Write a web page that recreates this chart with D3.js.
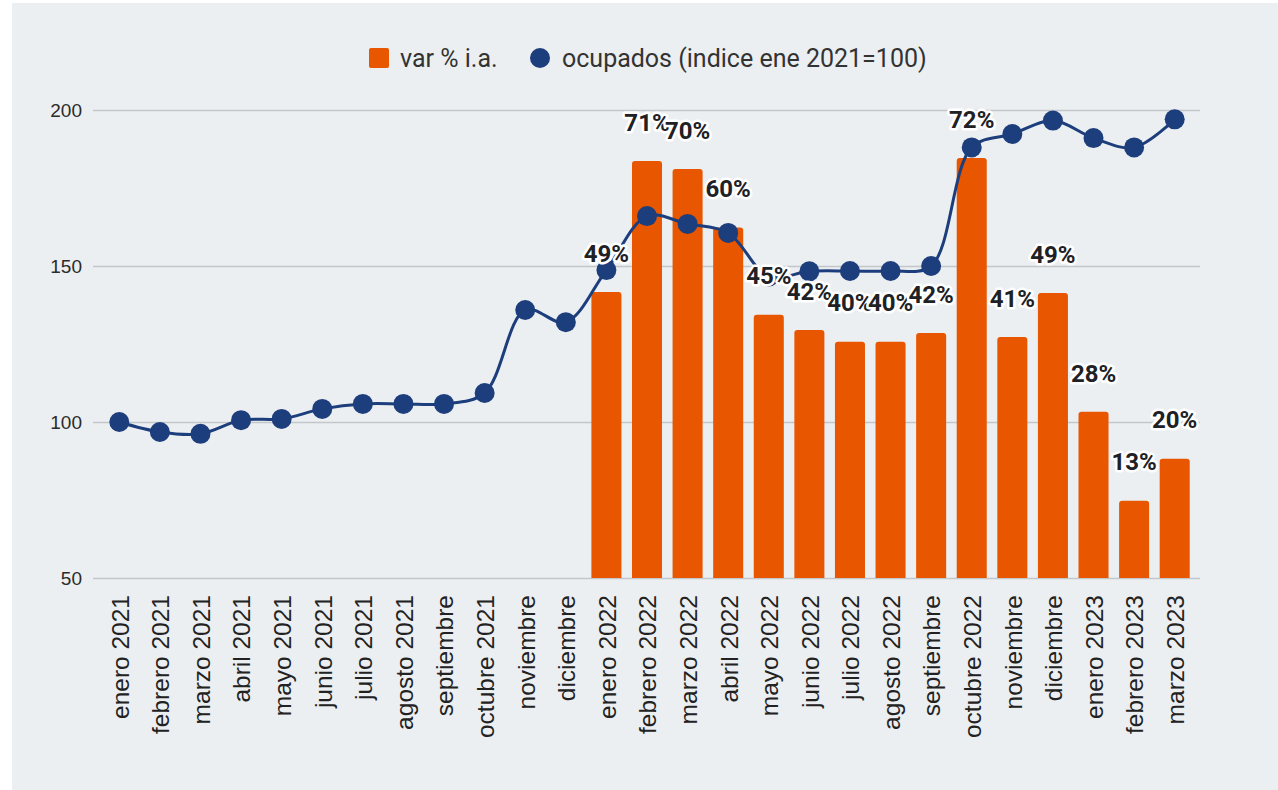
<!DOCTYPE html>
<html>
<head>
<meta charset="utf-8">
<script src="https://cdn.jsdelivr.net/npm/d3@7"></script>
<style>
  body { margin: 0; background: #fff; }
  svg { display: block; font-family: Roboto, "Liberation Sans", sans-serif; }
</style>
</head>
<body>
<div id="chart"></div>
<script>
// data
var months = ["enero 2021", "febrero 2021", "marzo 2021", "abril 2021", "mayo 2021", "junio 2021",
  "julio 2021", "agosto 2021", "septiembre", "octubre 2021", "noviembre", "diciembre",
  "enero 2022", "febrero 2022", "marzo 2022", "abril 2022", "mayo 2022", "junio 2022",
  "julio 2022", "agosto 2022", "septiembre", "octubre 2022", "noviembre", "diciembre",
  "enero 2023", "febrero 2023", "marzo 2023"];

// var % i.a. (only from enero 2022)
var varIA = [null, null, null, null, null, null, null, null, null, null, null, null,
  48.9, 71.3, 69.9, 59.9, 45.0, 42.4, 40.4, 40.4, 41.9, 71.8, 41.2, 48.7, 28.4, 13.2, 20.4];

// ocupados (indice ene 2021=100)
var ocupados = [100, 96.8, 96.2, 100.6, 101, 104.2, 105.8, 105.8, 105.8, 109.3, 135.9, 132,
  148.7, 166, 163.5, 160.6, 146.6, 148.3, 148.4, 148.4, 150, 188, 192.3, 196.6, 191, 188, 197];

var yTicks = [50, 100, 150, 200];

// magic numbers
var W = 1278, H = 790,
    plot = {left: 99, right: 1195, top: 110, bottom: 578},
    orange = "#e85600", navy = "#1d3e7c";

var svg = d3.select("#chart").append("svg")
    .attr("width", W)
    .attr("height", H);

svg.append("rect")
    .attr("x", 12).attr("y", 3)
    .attr("width", W - 12).attr("height", H - 3)
    .attr("fill", "#eceff1");

var x = d3.scalePoint()
    .domain(d3.range(months.length))
    .range([plot.left, plot.right])
    .padding(0.5);

var y = d3.scaleLinear()
    .domain([50, 200])
    .range([plot.bottom, plot.top]);

// hidden right axis for the bars
var y2 = d3.scaleLinear()
    .domain([0, 80])
    .range([plot.bottom, plot.top]);

var barW = x.step() * 0.74;

// grid + left axis
var yAxis = d3.axisLeft(y)
    .tickValues(yTicks)
    .tickSize(-(1200 - 93))
    .tickPadding(11);

var gy = svg.append("g")
    .attr("transform", "translate(93,0)")
    .call(yAxis);
gy.select(".domain").remove();
gy.selectAll("line").attr("stroke", "#c3c7ca").attr("stroke-width", 1.5);
gy.selectAll("text")
    .attr("fill", "#2b2b2b")
    .style("font-size", "19px");

// bottom axis
var xAxis = d3.axisBottom(x)
    .tickSize(0)
    .tickFormat(function(i) { return months[i]; });

var gx = svg.append("g")
    .attr("transform", "translate(0," + plot.bottom + ")")
    .call(xAxis);
gx.select(".domain").remove();
gx.selectAll("text")
    .attr("transform", "rotate(-90)")
    .attr("x", -17)
    .attr("y", 0)
    .attr("dy", "0.36em")
    .attr("text-anchor", "end")
    .attr("fill", "#222")
    .style("font-size", "24.5px");

// bars
var barData = varIA.map(function(v, i) { return {i: i, v: v}; })
    .filter(function(d) { return d.v != null; });

svg.append("g").selectAll("path")
    .data(barData)
  .enter().append("path")
    .attr("fill", orange)
    .attr("d", function(d) {
      var x0 = x(d.i) - barW / 2, x1 = x0 + barW,
          y0 = y2(d.v), y1 = plot.bottom, r = 3;
      return "M" + x0 + "," + y1 + "V" + (y0 + r) +
        "Q" + x0 + "," + y0 + " " + (x0 + r) + "," + y0 +
        "H" + (x1 - r) + "Q" + x1 + "," + y0 + " " + x1 + "," + (y0 + r) +
        "V" + y1 + "Z";
    });

// line
var line = d3.line()
    .x(function(d, i) { return x(i); })
    .y(function(d) { return y(d); })
    .curve(d3.curveCatmullRom.alpha(0.5));

svg.append("path")
    .datum(ocupados)
    .attr("fill", "none")
    .attr("stroke", navy)
    .attr("stroke-width", 3)
    .attr("d", line);

svg.append("g").selectAll("circle")
    .data(ocupados)
  .enter().append("circle")
    .attr("cx", function(d, i) { return x(i); })
    .attr("cy", function(d) { return y(d); })
    .attr("r", 10)
    .attr("fill", navy);

// bar labels
svg.append("g").selectAll("text")
    .data(barData)
  .enter().append("text")
    .attr("x", function(d) { return x(d.i); })
    .attr("y", function(d) { return y2(d.v) - 39; })
    .attr("dy", "0.36em")
    .attr("text-anchor", "middle")
    .attr("fill", "#202124")
    .attr("stroke", "#fff")
    .attr("stroke-width", 5)
    .attr("stroke-linejoin", "round")
    .attr("paint-order", "stroke")
    .style("font-size", "24px")
    .style("font-weight", "bold")
    .text(function(d) { return Math.round(d.v) + "%"; });

// legend
var lg = svg.append("g").style("font-size", "25px").attr("fill", "#333");
lg.append("rect").attr("x", 369).attr("y", 48).attr("width", 20).attr("height", 20).attr("rx", 2).attr("fill", orange);
lg.append("text").attr("x", 400).attr("y", 58).attr("dy", "0.35em").text("var % i.a.");
lg.append("circle").attr("cx", 540).attr("cy", 58).attr("r", 10).attr("fill", navy);
lg.append("text").attr("x", 562).attr("y", 58).attr("dy", "0.35em").text("ocupados (indice ene 2021=100)");
</script>
</body>
</html>
